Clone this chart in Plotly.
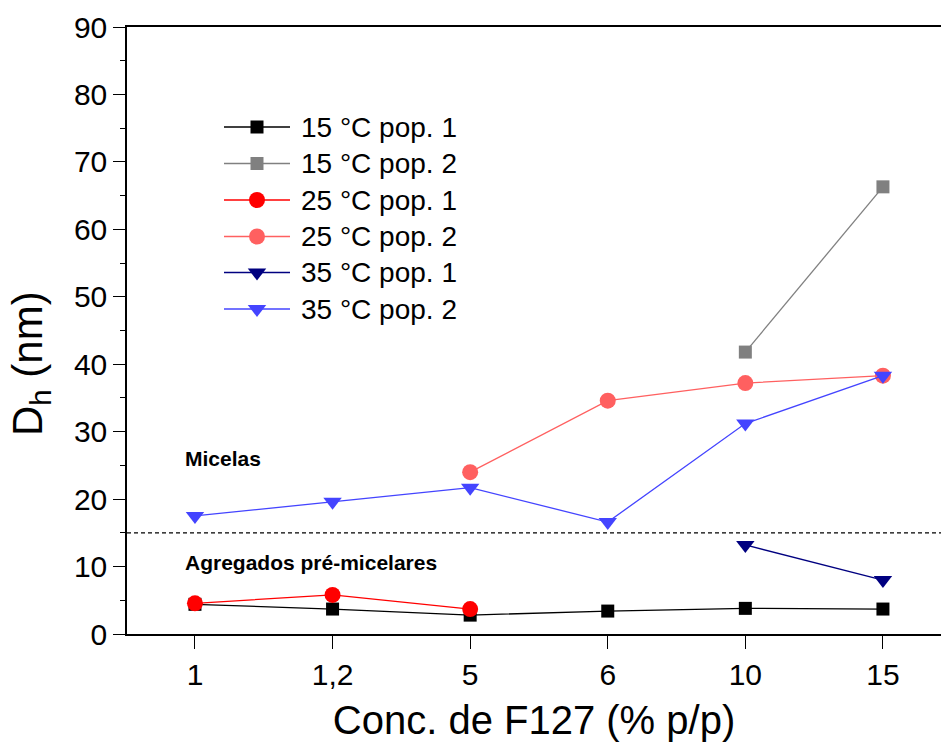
import plotly.graph_objects as go

categories = ["1", "1,2", "5", "6", "10", "15"]

t15_pop1_x = ["1", "1,2", "5", "6", "10", "15"]
t15_pop1_y = [4.4, 3.7, 2.8, 3.4, 3.8, 3.7]

t15_pop2_x = ["10", "15"]
t15_pop2_y = [41.8, 66.3]

t25_pop1_x = ["1", "1,2", "5"]
t25_pop1_y = [4.55, 5.8, 3.7]

t25_pop2_x = ["5", "6", "10", "15"]
t25_pop2_y = [24.0, 34.6, 37.2, 38.3]

t35_pop1_x = ["10", "15"]
t35_pop1_y = [13.2, 8.0]

t35_pop2_x = ["1", "1,2", "5", "6", "10", "15"]
t35_pop2_y = [17.5, 19.6, 21.7, 16.6, 31.2, 38.3]

threshold = 15

FONT = "Arial, 'Liberation Sans', sans-serif"

series = [
    ("15 °C pop. 1", t15_pop1_x, t15_pop1_y, "#000000", "square", 13),
    ("15 °C pop. 2", t15_pop2_x, t15_pop2_y, "#808080", "square", 13),
    ("25 °C pop. 1", t25_pop1_x, t25_pop1_y, "#FF0000", "circle", 16),
    ("25 °C pop. 2", t25_pop2_x, t25_pop2_y, "#FF6060", "circle", 16),
    ("35 °C pop. 1", t35_pop1_x, t35_pop1_y, "#000080", "triangle-down", 16),
    ("35 °C pop. 2", t35_pop2_x, t35_pop2_y, "#4444FF", "triangle-down", 16),
]

fig = go.Figure()
for name, xs, ys, col, sym, sz in series:
    fig.add_trace(go.Scatter(
        x=xs, y=ys, name=name, mode="lines+markers", showlegend=False,
        line=dict(color=col, width=1.3),
        marker=dict(symbol=sym, size=sz, color=col, line=dict(width=0)),
    ))

# custom legend drawn on a hidden pixel-scaled overlay axis
LEG_ROWS = [127, 163.5, 200, 236.5, 272.5, 309]
LEG_X0, LEG_X1, LEG_TX = 224, 290, 299
for (name, xs, ys, col, sym, sz), ry in zip(series, LEG_ROWS):
    fig.add_trace(go.Scatter(
        x=[LEG_X0, (LEG_X0 + LEG_X1) / 2, LEG_X1], y=[ry, ry, ry],
        xaxis="x2", yaxis="y2", mode="lines", showlegend=False, hoverinfo="skip",
        line=dict(color=col, width=1.3),
    ))
    fig.add_trace(go.Scatter(
        x=[(LEG_X0 + LEG_X1) / 2], y=[ry],
        xaxis="x2", yaxis="y2", mode="markers", showlegend=False, hoverinfo="skip",
        marker=dict(symbol=sym, size=sz, color=col, line=dict(width=0)),
    ))
    fig.add_annotation(x=LEG_TX, y=ry, xref="x2", yref="y2", text=name,
                       showarrow=False, xanchor="left", yanchor="middle",
                       font=dict(family=FONT, size=28, color="black"))

fig.add_hline(y=threshold, line=dict(color="black", width=1.2, dash="4px,3px"))

fig.add_annotation(x=183, y=458, xref="x2", yref="y2", text="<b>Micelas</b>",
                   showarrow=False, xanchor="left", yanchor="middle",
                   font=dict(family=FONT, size=21, color="black"))
fig.add_annotation(x=183, y=562, xref="x2", yref="y2", text="<b>Agregados pré-micelares</b>",
                   showarrow=False, xanchor="left", yanchor="middle",
                   font=dict(family=FONT, size=21, color="black"))

# y-axis title (paper coords: plot area spans x 127..941, y 27..634 px)
fig.add_annotation(x=(30 - 127) / 814, y=(634 - 364) / 607, xref="paper", yref="paper",
                   text="D<sub>h</sub> (nm)",
                   showarrow=False, xanchor="center", yanchor="middle", textangle=-90,
                   font=dict(family=FONT, size=42, color="black"))

fig.update_layout(
    width=941, height=751,
    margin=dict(l=127, r=0, t=27, b=117),
    paper_bgcolor="white", plot_bgcolor="white",
    font=dict(family=FONT, color="black"),
    showlegend=False,
    xaxis=dict(
        type="category", categoryorder="array", categoryarray=categories,
        range=[-0.494, 5.422],
        showline=True, linecolor="black", linewidth=1.5, mirror=True,
        ticks="outside", ticklen=13, tickwidth=1.3, tickcolor="black",
        showgrid=False, zeroline=False,
        tickfont=dict(family=FONT, size=30),
        title=dict(text="Conc. de F127 (% p/p)", font=dict(family=FONT, size=40), standoff=16),
    ),
    yaxis=dict(
        range=[0, 90], dtick=10, tick0=0,
        showline=True, linecolor="black", linewidth=1.5, mirror=False,
        ticks="outside", ticklen=12, tickwidth=1.3, tickcolor="black",
        minor=dict(dtick=5, ticks="outside", ticklen=5, tickwidth=1.3, tickcolor="black", showgrid=False),
        showgrid=False, zeroline=False,
        tickfont=dict(family=FONT, size=30),
    ),
    xaxis2=dict(overlaying="x", anchor="y2", range=[127, 941], visible=False,
                showgrid=False, zeroline=False, fixedrange=True),
    yaxis2=dict(overlaying="y", anchor="x2", range=[634, 27], visible=False,
                showgrid=False, zeroline=False, fixedrange=True),
)

fig.write_html("out.html")
